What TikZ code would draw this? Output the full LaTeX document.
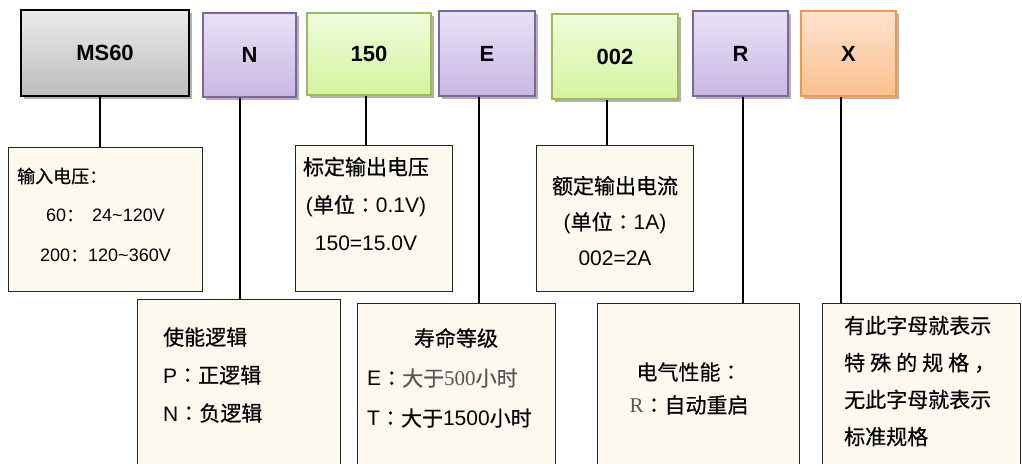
\documentclass[tikz,border=0pt]{standalone}
\usepackage{fontspec}
\setmainfont{Liberation Sans}
\newfontfamily\cjk[FakeBold=0.5]{Noto Sans CJK SC}
\newfontfamily\cjkmid[FakeBold=0.5]{Noto Sans CJK JP}
\newfontfamily\serifrm{Liberation Serif}
\usetikzlibrary{shadows}

\definecolor{graytop}{HTML}{EBEBEB}
\definecolor{graybot}{HTML}{BDBDBD}
\definecolor{lilacedge}{HTML}{8064A2}
\definecolor{lilactop}{HTML}{E8E2F4}
\definecolor{lilacbot}{HTML}{C8B7E6}
\definecolor{limeedge}{HTML}{9BBB59}
\definecolor{limetop}{HTML}{F0FCDC}
\definecolor{limebot}{HTML}{D4F49C}
\definecolor{peachedge}{HTML}{F79646}
\definecolor{peachtop}{HTML}{FDE3CE}
\definecolor{peachbot}{HTML}{FBC08F}
\definecolor{cream}{HTML}{FDF9EF}
\definecolor{softgray}{HTML}{555555}

\newcommand{\zh}[1]{{\cjk #1}}
\newcommand{\zhcolon}{{\cjkmid ：}}

\tikzset{
  codebox/.style={line width=1.6pt, inner sep=0pt,
    font=\bfseries\fontsize{22}{26}\selectfont,
    drop shadow={shadow xshift=2.5pt, shadow yshift=-2.5pt, fill=black, opacity=0.3}},
  graybox/.style={codebox, draw=black, line width=2.4pt, top color=graytop, bottom color=graybot},
  lilacbox/.style={codebox, draw=lilacedge, top color=lilactop, bottom color=lilacbot},
  limebox/.style={codebox, draw=limeedge, top color=limetop, bottom color=limebot},
  peachbox/.style={codebox, draw=peachedge, top color=peachtop, bottom color=peachbot},
  notebox/.style={draw=black!85, line width=0.9pt, fill=cream, inner sep=0pt},
  notetext/.style={inner sep=0pt, font=\fontsize{21}{38}\selectfont},
  link/.style={line width=1.6pt}
}

\begin{document}
\begin{tikzpicture}[x=1pt, y=-1pt]
  \clip (0,0) rectangle (1022,463);

  % code boxes
  \node[graybox, minimum width=168, minimum height=86] (ms) at (105,53) {MS60};
  \node[lilacbox, minimum width=93, minimum height=84] (n) at (249.5,55) {\raisebox{-4pt}{N}};
  \node[limebox, minimum width=124, minimum height=82] (vout) at (369,54) {150};
  \node[lilacbox, minimum width=96, minimum height=85] (e) at (487,53.5) {\raisebox{-9pt}{E}};
  \node[limebox, minimum width=126, minimum height=85] (iout) at (615,56.5) {\raisebox{-3pt}{002}};
  \node[lilacbox, minimum width=95, minimum height=85] (r) at (740.5,53.5) {R};
  \node[peachbox, minimum width=95, minimum height=85] (x) at (848.5,53.5) {X};

  % note boxes
  \node[notebox, minimum width=194, minimum height=144] (vin) at (105,219) {};
  \node[notebox, minimum width=157, minimum height=146] (vset) at (373.5,218) {};
  \node[notebox, minimum width=157, minimum height=146] (iset) at (614.5,218) {};
  \node[notebox, minimum width=203, minimum height=181] (en) at (238.5,389.5) {};
  \node[notebox, minimum width=198, minimum height=177] (life) at (456,391.5) {};
  \node[notebox, minimum width=202, minimum height=177] (elec) at (698,391.5) {};
  \node[notebox, minimum width=198, minimum height=177] (spec) at (921,391.5) {};

  % connectors
  \draw[link] ([xshift=-5pt]ms.south) -- ([xshift=-5pt]ms.south |- vin.north);
  \draw[link] (en.north |- n.south) ++(1.5,0) -- ([xshift=1.5pt]en.north);
  \draw[link] ([xshift=-3pt]vout.south) -- ([xshift=-3pt]vout.south |- vset.north);
  \draw[link] ([xshift=-8pt]e.south) -- ([xshift=-8pt]e.south |- life.north);
  \draw[link] ([xshift=-8pt]iout.south) -- ([xshift=-8pt]iout.south |- iset.north);
  \draw[link] ([xshift=2.5pt]r.south) -- ([xshift=2.5pt]r.south |- elec.north);
  \draw[link] ([xshift=-7.5pt]x.south) -- ([xshift=-7.5pt]x.south |- spec.north);

  % texts
  \node[notetext, anchor=west, font=\fontsize{18}{36}\selectfont] (vinhead) at (17,176) {\zh{输入电压：}};
  \node[notetext, align=center, font=\fontsize{18}{40}\selectfont] (vinbody) at (105.5,235)
    {60\zh{：}\hspace{8pt}24\textasciitilde120V\\200\zh{：}120\textasciitilde360V};
  \node[notetext, align=center] (vsettext) at (366,204)
    {\zh{标定输出电压}\\(\zh{单位}\zhcolon0.1V)\\150=15.0V};
  \node[notetext, align=center, font=\fontsize{21}{36}\selectfont] (isettext) at (615,221)
    {\zh{额定输出电流}\\(\zh{单位}\zhcolon1A)\\002=2A};
  \node[notetext, align=left, anchor=west] (entext) at (163,375)
    {\zh{使能逻辑}\\P\zhcolon\zh{正逻辑}\\N\zhcolon\zh{负逻辑}};
  \node[notetext] (lifehead) at (456,338) {\zh{寿命等级}};
  \node[notetext, align=left, anchor=west, font=\fontsize{21}{40}\selectfont] (lifetext) at (367,398)
    {E\zhcolon\textcolor{softgray}{\zh{大于}\serifrm 500\zh{小时}}\\T\zhcolon\zh{大于}1500\zh{小时}};
  \node[notetext, align=center, font=\fontsize{21}{33}\selectfont] (electext) at (689,388.5)
    {\zh{电气性能}\zhcolon\\{\serifrm\color{softgray}R}\zhcolon\zh{自动重启}};
  \node[notetext, align=left, anchor=west, font=\fontsize{21}{37}\selectfont] (spectext) at (844,381)
    {\zh{有此字母就表示}\\\zh{特\hspace{5pt}殊\hspace{5pt}的\hspace{5pt}规\hspace{5pt}格\hspace{5pt}，}\\\zh{无此字母就表示}\\\zh{标准规格}};
\end{tikzpicture}
\end{document}
